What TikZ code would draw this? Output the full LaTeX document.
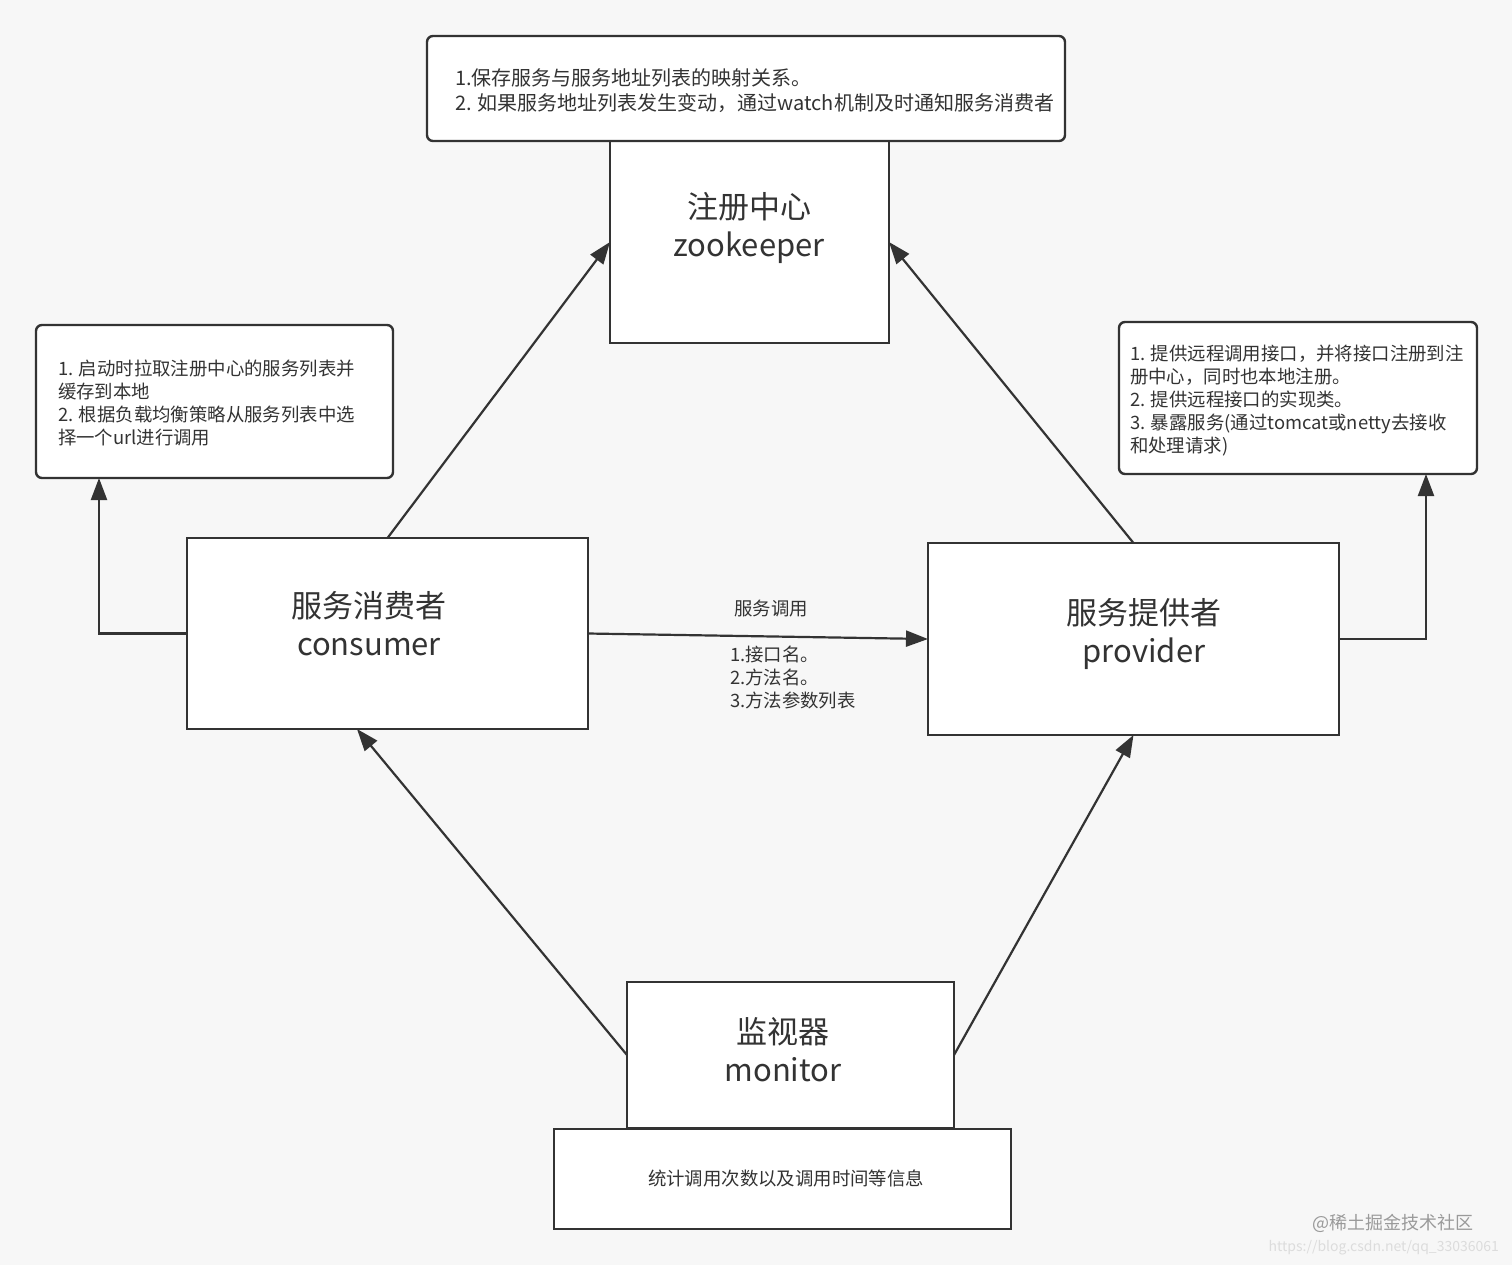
\documentclass[tikz,border=0pt]{standalone}
\usepackage{fontspec}
\newfontfamily\cjkfont{Noto Sans CJK SC}
\usetikzlibrary{arrows.meta,positioning,calc}
\definecolor{netve}{HTML}{333333}
\definecolor{nenxam}{HTML}{F7F7F7}
\definecolor{chumo}{HTML}{9A9A9A}
\definecolor{chunhat}{HTML}{DCDCDC}
\tikzset{
  hop/.style={draw=netve, line width=1.2pt, fill=white, inner sep=0pt, outer sep=0pt},
  ghichu/.style={hop, rounded corners=3pt},
  chulon/.style={text=netve, align=center, font=\cjkfont\fontsize{15.5}{19}\selectfont},
  chunho/.style={text=netve, align=left, font=\cjkfont\fontsize{9.2}{11.5}\selectfont},
  muiten/.style={draw=netve, line width=1.1pt, -{Triangle[length=11pt, width=8pt]}}
}
\begin{document}
\begin{tikzpicture}[x=0.5pt, y=-0.5pt]
\fill[nenxam] (0,0) rectangle (1512,1265);
\useasboundingbox (0,0) rectangle (1512,1265);
\node[hop, minimum width=139.5pt, minimum height=101pt] (zk) at (749.5,242) {};
\node[ghichu, minimum width=319pt, minimum height=52.5pt] (zknote) at (746,88.5) {};
\node[ghichu, minimum width=178.5pt, minimum height=76.5pt] (cnote) at (214.5,401.5) {};
\node[hop, minimum width=200.5pt, minimum height=95.5pt] (cons) at (387.5,633.5) {};
\node[hop, minimum width=205.5pt, minimum height=96pt] (prov) at (1133.5,639) {};
\node[ghichu, minimum width=179pt, minimum height=76pt] (pnote) at (1298,398) {};
\node[hop, minimum width=163.5pt, minimum height=73pt] (mon) at (790.5,1055) {};
\node[hop, minimum width=228.5pt, minimum height=50pt] (mnote) at (782.5,1179) {};

\node[chulon] (zktext) at (749,228) {注册中心\\zookeeper};
\node[chulon] (constext) at (369,624) {服务消费者\\consumer};
\node[chulon] (provtext) at (1144,634) {服务提供者\\provider};
\node[chulon] (montext) at (783,1050) {监视器\\monitor};

\node[chunho, anchor=west, font=\cjkfont\fontsize{10}{12.5}\selectfont] (zknotetext) at (448,91)
  {1.保存服务与服务地址列表的映射关系。\\2. 如果服务地址列表发生变动，通过watch机制及时通知服务消费者};
\node[chunho, anchor=west] (cnotetext) at (51,403)
  {1. 启动时拉取注册中心的服务列表并\\缓存到本地\\2. 根据负载均衡策略从服务列表中选\\择一个url进行调用};
\node[chunho, anchor=west] (pnotetext) at (1123,401)
  {1. 提供远程调用接口，并将接口注册到注\\册中心，同时也本地注册。\\2. 提供远程接口的实现类。\\3. 暴露服务(通过tomcat或netty去接收\\和处理请求)};
\node[chunho] (mnotetext) at (786,1178) {统计调用次数以及调用时间等信息};
\node[chunho] (goitext) at (771,609) {服务调用};
\node[chunho, anchor=west] (thamso) at (723,678) {1.接口名。\\2.方法名。\\3.方法参数列表};

\draw[muiten] (cons.north) -- (zk.west);
\draw[muiten] (prov.north) -- (zk.east);
\draw[muiten] (cons.east) -- (prov.west);
\draw[muiten] (cons.west) -| ($(cnote.south west)+(63,0)$);
\draw[muiten] (prov.east) -| ($(pnote.south east)+(-51,0)$);
\draw[muiten] (mon.west) -- ($(cons.south west)+(170,0)$);
\draw[muiten] (mon.east) -- (prov.south);

\node[anchor=east, text=chumo, font=\cjkfont\fontsize{9}{11}\selectfont] (thuong) at (1481,1223) {@稀土掘金技术社区};
\node[anchor=east, text=chunhat, font=\cjkfont\fontsize{7}{9}\selectfont] (duonglink) at (1506,1248) {https://blog.csdn.net/qq\_33036061};
\end{tikzpicture}
\end{document}
